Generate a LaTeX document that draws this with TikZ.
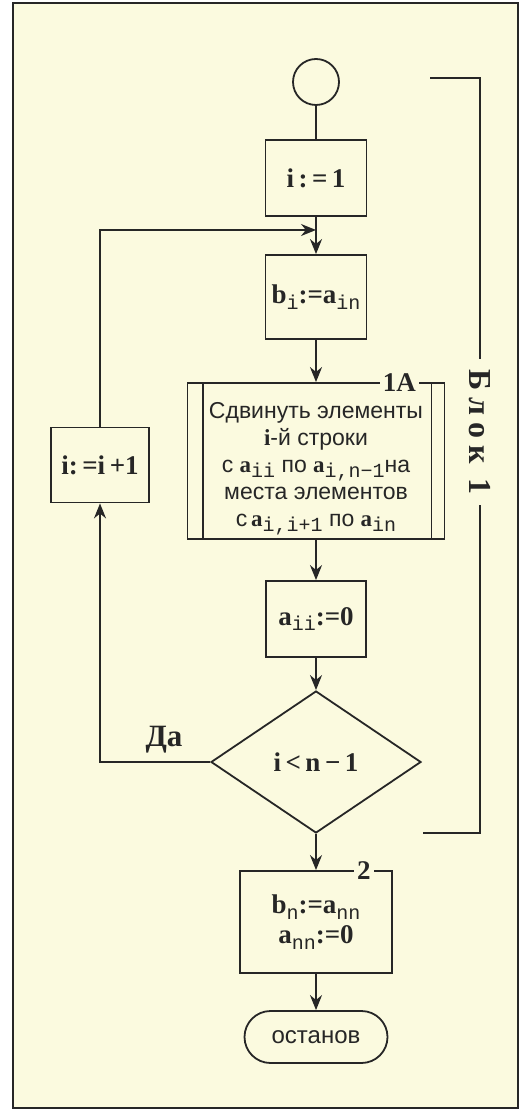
\documentclass[tikz,border=0pt]{standalone}
\usepackage{fontspec}
\setmainfont{Liberation Serif}
\setsansfont{Liberation Sans}
\setmonofont{Liberation Mono}
\usepackage{tikz}
\usetikzlibrary{positioning, arrows.meta, shapes.geometric}
\definecolor{paper}{HTML}{FBFADF}
\definecolor{ink}{HTML}{262626}
\newcommand{\subix}[1]{\raisebox{-0.45ex}{\fontsize{10}{10}\selectfont\ttfamily\mdseries #1}}
\newcommand{\ael}[1]{{\rmfamily\bfseries a}\subix{#1}}

\begin{document}
\begin{tikzpicture}[x=0.5pt, y=-0.5pt, color=ink, line width=0.9pt,
  formula/.style={font=\fontsize{13.5}{15}\selectfont\bfseries},
  opbox/.style={draw, fill=paper, rectangle, inner sep=0pt, formula},
  flow/.style={-{Stealth[length=7.5pt, width=6pt]}},
  tag/.style={fill=paper, inner sep=1.5pt, formula}]
  \useasboundingbox (0,0) rectangle (524,1111);
  \draw[fill=paper] (13,3) rectangle (518,1108);

  \node[circle, draw, fill=paper, minimum size=23pt, inner sep=0pt] (start) at (316,82) {};
  \node[opbox, minimum width=50.5pt, minimum height=38pt] (init) at (316,178) {i\,:\,=\,1};
  \coordinate (join) at (316,230);
  \node[opbox, minimum width=50.5pt, minimum height=42pt] (bi) at (316,297) {b\subix{i}:=a\subix{in}};
  \node[opbox, minimum width=128.5pt, minimum height=78pt, align=center,
        font=\sffamily\fontsize{11.5}{13.5}\selectfont] (shift) at (316,461) {%
    \rule{0pt}{16pt}Сдвинуть элементы\\
    {\rmfamily\bfseries i}-й строки\\
    с \ael{ii} по \ael{i,n−1}на\\
    места элементов\\
    с\,\ael{i,i+1} по \ael{in}};
  \draw ([xshift=8pt]shift.north west) -- ([xshift=8pt]shift.south west);
  \draw ([xshift=-7pt]shift.north east) -- ([xshift=-7pt]shift.south east);
  \node[tag] (tagA) at ([xshift=-23pt]shift.north east) {1A};
  \node[opbox, minimum width=49pt, minimum height=37.5pt] (inc) at (100,465) {i:\,=i\,+1};
  \node[opbox, minimum width=50pt, minimum height=38pt] (aii) at (316,619) {a\subix{ii}:=0};
  \node[diamond, draw, fill=paper, minimum width=105pt, minimum height=71pt,
        inner sep=0pt, formula] (test) at (316,762) {i\,<\,n\,−\,1};
  \node[formula, font=\fontsize{15.5}{17}\selectfont\bfseries] (yes) at (164,740) {Да};
  \node[opbox, minimum width=76pt, minimum height=51pt, align=center] (fin) at (316,922)
    {b\subix{n}:=a\subix{nn}\\a\subix{nn}:=0};
  \node[tag] (tag2) at ([xshift=-14.5pt]fin.north east) {2};
  \node[draw, fill=paper, rounded corners=13pt, minimum width=71.5pt, minimum height=26pt,
        font=\sffamily\fontsize{12}{14}\selectfont] (stop) at (316,1037) {останов};

  \draw (start) -- (init);
  \draw[flow] (init) -- (bi);
  \draw[flow] (bi) -- (shift);
  \draw[flow] (shift) -- (aii);
  \draw[flow] (aii) -- (test);
  \draw[flow] (test) -- (fin);
  \draw[flow] (fin) -- (stop);
  \draw[flow] (test.west) -| (inc.south);
  \draw[flow] (inc.north) |- (join);

  \coordinate (blkA) at (430,78);
  \coordinate (blkB) at (423,833);
  \draw (blkA) -- ++(50,0) |- (blkB);
  \node[tag, rotate=-90, inner xsep=5pt,
        font=\fontsize{16}{16}\selectfont\bfseries\addfontfeatures{LetterSpace=22}] (blk) at (480,432) {Блок 1};
\end{tikzpicture}
\end{document}
